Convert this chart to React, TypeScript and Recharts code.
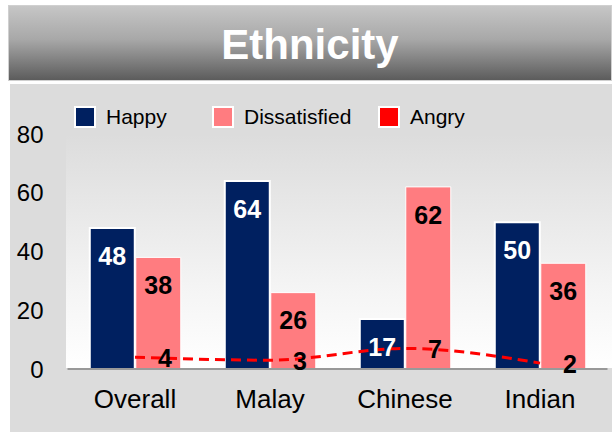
import React from 'react'
import { ComposedChart, Bar, Line, XAxis, YAxis, Legend, LabelList } from 'recharts'

const categories = ['Overall', 'Malay', 'Chinese', 'Indian']
const happy = [48, 64, 17, 50]
const dissatisfied = [38, 26, 62, 36]
const angry = [4, 3, 7, 2]
const yTicks = [0, 20, 40, 60, 80]

const NAVY = '#002060'
const PINK = '#FF7C80'
const RED = '#FF0000'
const FONT = '"Liberation Sans", Arial, sans-serif'

const chartData = categories.map((name, i) => ({
  name,
  happy: happy[i],
  dissatisfied: dissatisfied[i],
  angry: angry[i],
}))

const legendItems = [
  { label: 'Happy', color: NAVY, width: 138 },
  { label: 'Dissatisfied', color: PINK, width: 166 },
  { label: 'Angry', color: RED, width: 120 },
]

const renderLegend = () => (
  <div style={{ display: 'flex', fontFamily: FONT, fontSize: 21, color: '#000' }}>
    {legendItems.map((item) => (
      <div key={item.label} style={{ display: 'flex', alignItems: 'center', width: item.width }}>
        <span
          style={{
            display: 'inline-block',
            width: 18,
            height: 18,
            background: item.color,
            border: '2px solid #fff',
            marginRight: 10,
          }}
        />
        <span>{item.label}</span>
      </div>
    ))}
  </div>
)

// small bold number sitting to the right of each point on the dashed line
const angryLabel = (props: any) => {
  const { x, y, value } = props
  return (
    <text
      x={x + 30}
      y={y + 3}
      textAnchor="middle"
      dominantBaseline="middle"
      fontFamily={FONT}
      fontWeight="bold"
      fontSize={25}
      fill="#000"
    >
      {value}
    </text>
  )
}

const App: React.FC = () => {
  return (
    <div style={{ position: 'absolute', left: 0, top: 0, width: 612, height: 435, overflow: 'hidden', fontFamily: FONT }}>
      {/* title banner */}
      <div
        style={{
          position: 'absolute',
          left: 8,
          top: 5,
          width: 604,
          height: 76,
          paddingTop: 3,
          background: 'linear-gradient(to bottom, #c6c6c6 0%, #a8a8a8 45%, #5c5c5c 100%)',
          border: '1px solid #d0d0d0',
          boxSizing: 'border-box',
          display: 'flex',
          alignItems: 'center',
          justifyContent: 'center',
          color: '#fff',
          fontWeight: 'bold',
          fontSize: 42,
        }}
      >
        Ethnicity
      </div>
      {/* gray panel */}
      <div style={{ position: 'absolute', left: 10, top: 84, width: 602, height: 348, background: '#dcdcdc' }} />
      {/* plot gradient */}
      <div
        style={{
          position: 'absolute',
          left: 66,
          top: 134,
          width: 546,
          height: 234,
          background: 'linear-gradient(to bottom, #dcdcdc 0%, #f4f4f4 65%, #ffffff 100%)',
        }}
      />
      <div style={{ position: 'absolute', left: 0, top: 0 }}>
        <ComposedChart
          width={612}
          height={435}
          data={chartData}
          margin={{ top: 134, right: 4.5, bottom: 26, left: 7.5 }}
          barCategoryGap="16.5%"
          barGap={1}
        >
          <XAxis
            dataKey="name"
            axisLine={{ stroke: '#999999', strokeWidth: 2 }}
            tickLine={false}
            height={40}
            tickMargin={15}
            tick={{ fill: '#000', fontSize: 26, fontFamily: FONT }}
          />
          <YAxis
            domain={[0, 80]}
            ticks={yTicks}
            axisLine={false}
            tickLine={false}
            width={60}
            tickMargin={18}
            tick={{ fill: '#000', fontSize: 24, fontFamily: FONT }}
          />
          <Legend
            content={renderLegend}
            layout="horizontal"
            verticalAlign="middle"
            align="center"
            wrapperStyle={{ top: 105, left: 74, width: 530 }}
          />
          <Bar dataKey="happy" name="Happy" fill={NAVY} stroke="#fff" strokeWidth={2} isAnimationActive={false}>
            <LabelList
              dataKey="happy"
              position="insideTop"
              offset={19}
              fill="#fff"
              fontSize={25}
              fontWeight="bold"
              fontFamily={FONT}
            />
          </Bar>
          <Bar dataKey="dissatisfied" name="Dissatisfied" fill={PINK} stroke="#fff" strokeWidth={1} isAnimationActive={false}>
            <LabelList
              dataKey="dissatisfied"
              position="insideTop"
              offset={19}
              fill="#000"
              fontSize={25}
              fontWeight="bold"
              fontFamily={FONT}
            />
          </Bar>
          <Line
            dataKey="angry"
            name="Angry"
            type="monotone"
            stroke={RED}
            strokeWidth={3}
            strokeDasharray="10 6"
            dot={false}
            isAnimationActive={false}
          >
            <LabelList dataKey="angry" content={angryLabel} />
          </Line>
        </ComposedChart>
      </div>
    </div>
  )
}

export default App
